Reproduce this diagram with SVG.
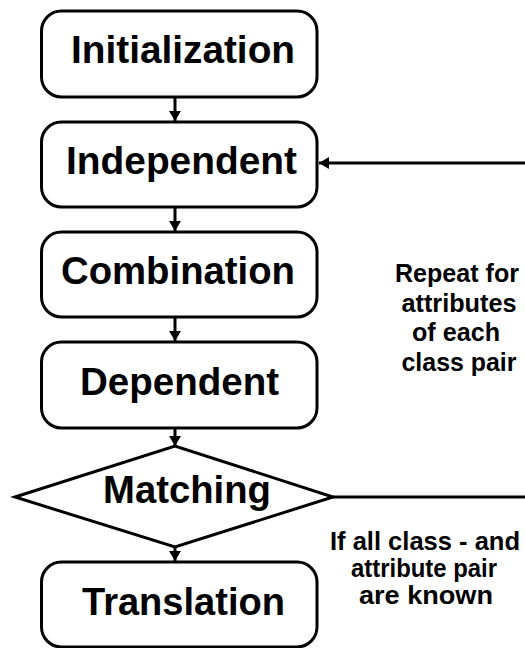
<svg xmlns="http://www.w3.org/2000/svg" width="525" height="648" viewBox="0 0 525 648">
  <style>
    .box { fill: #ffffff; stroke: #000000; stroke-width: 3; }
    .label { font-family: "Liberation Sans", Arial, sans-serif; font-weight: bold; font-size: 38px; fill: #000000; }
    .note { font-family: "Liberation Sans", Arial, sans-serif; font-weight: bold; font-size: 25px; fill: #000000; }
    .wire { fill: none; stroke: #000000; stroke-width: 3; }
  </style>
  <defs>
    <marker id="head" viewBox="0 0 10 12" refX="10" refY="6" markerWidth="10" markerHeight="12" markerUnits="userSpaceOnUse" orient="auto">
      <path d="M0,0 L10,6 L0,12 Z" fill="#000000"/>
    </marker>
  </defs>

  <rect width="525" height="648" fill="#ffffff"/>

  <!-- connectors -->
  <g id="connectors">
    <line class="wire" x1="175" y1="97" x2="175" y2="121" stroke-width="2.5" marker-end="url(#head)"/>
    <line class="wire" x1="175" y1="207" x2="175" y2="231" stroke-width="2.5" marker-end="url(#head)"/>
    <line class="wire" x1="175" y1="317" x2="175" y2="341" stroke-width="2.5" marker-end="url(#head)"/>
    <line class="wire" x1="175" y1="428" x2="175" y2="446" stroke-width="2.5" marker-end="url(#head)"/>
    <line class="wire" x1="175" y1="547" x2="175" y2="561" stroke-width="2.5" marker-end="url(#head)"/>
    <!-- loop back from the decision to the independent step -->
    <polyline class="wire" points="333,497 540,497 540,163 319,163" marker-end="url(#head)"/>
  </g>

  <g id="initialization">
    <rect class="box" x="41.5" y="11" width="275.5" height="86" rx="20" ry="20"/>
    <text class="label" x="71" y="63" textLength="224" lengthAdjust="spacingAndGlyphs">Initialization</text>
  </g>

  <g id="independent">
    <rect class="box" x="41.5" y="122" width="275.5" height="85" rx="20" ry="20"/>
    <text class="label" x="66" y="174" textLength="231" lengthAdjust="spacingAndGlyphs">Independent</text>
  </g>

  <g id="combination">
    <rect class="box" x="41.5" y="232" width="275.5" height="85" rx="20" ry="20"/>
    <text class="label" x="61" y="284" textLength="234" lengthAdjust="spacingAndGlyphs">Combination</text>
  </g>

  <g id="dependent">
    <rect class="box" x="41.5" y="342" width="275.5" height="86" rx="20" ry="20"/>
    <text class="label" x="80" y="395" textLength="199" lengthAdjust="spacingAndGlyphs">Dependent</text>
  </g>

  <g id="matching">
    <polygon class="box" points="15,497 175,446 333,497 175,547"/>
    <text class="label" x="103" y="503" textLength="168" lengthAdjust="spacingAndGlyphs">Matching</text>
  </g>

  <g id="translation">
    <rect class="box" x="41.5" y="562" width="275.5" height="85" rx="20" ry="20"/>
    <text class="label" x="82" y="615" textLength="203" lengthAdjust="spacingAndGlyphs">Translation</text>
  </g>

  <g id="repeat-note">
    <text class="note" x="395" y="282" textLength="124" lengthAdjust="spacingAndGlyphs">Repeat for</text>
    <text class="note" x="401.5" y="311.5" textLength="115" lengthAdjust="spacingAndGlyphs">attributes</text>
    <text class="note" x="412" y="341" textLength="88" lengthAdjust="spacingAndGlyphs">of each</text>
    <text class="note" x="401.5" y="370.5" textLength="115" lengthAdjust="spacingAndGlyphs">class pair</text>
  </g>

  <g id="exit-note">
    <text class="note" x="330" y="550" textLength="190" lengthAdjust="spacingAndGlyphs">If all class - and</text>
    <text class="note" x="351" y="577" textLength="146" lengthAdjust="spacingAndGlyphs">attribute pair</text>
    <text class="note" x="359" y="604" textLength="134" lengthAdjust="spacingAndGlyphs">are known</text>
  </g>
</svg>
